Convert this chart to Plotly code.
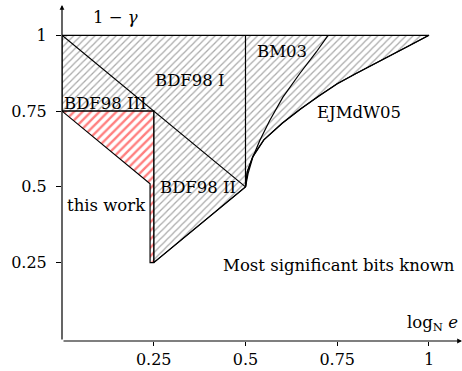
import plotly.graph_objects as go

# ---- data ----
x_ticks = [0.25, 0.5, 0.75, 1]
x_tick_labels = ["0.25", "0.5", "0.75", "1"]
y_ticks = [0.25, 0.5, 0.75, 1]
y_tick_labels = ["0.25", "0.5", "0.75", "1"]

# EJMdW05 bound (lower boundary of known region), from (0.5,0.5) to (1,1)
ejm_x = [0.5, 0.505, 0.52, 0.55, 0.6, 0.65, 0.7, 0.75, 0.8, 0.85, 0.9, 0.95, 1.0]
ejm_y = [0.5, 0.55, 0.6, 0.655, 0.71, 0.757, 0.8, 0.84, 0.873, 0.905, 0.937, 0.968, 1.0]

# BM03 bound, from (0.5,0.5) to (0.725,1)
bm_x = [0.5, 0.507, 0.52, 0.539, 0.566, 0.602, 0.648, 0.693, 0.725]
bm_y = [0.5, 0.544, 0.598, 0.653, 0.719, 0.796, 0.874, 0.945, 1.0]

# BDF98 boundaries
bdf_I_x = [0, 0.5]
bdf_I_y = [1, 0.5]
bdf_II_x = [0.25, 0.5]
bdf_II_y = [0.25, 0.5]
bdf_vert_x = [0.5, 0.5]
bdf_vert_y = [0.5, 1]

# this work region
tw_x = [0, 0.25, 0.25, 0.24, 0.24, 0]
tw_y = [0.75, 0.75, 0.25, 0.25, 0.51, 0.75]

XMIN, XMAX = 0, 1.09
YMIN, YMAX = -0.0085, 1.1

FONT = "DejaVu Serif"

fig = go.Figure()

# gray hatched known region
known_x = [0, 1] + ejm_x[::-1] + [0.25, 0.25, 0, 0]
known_y = [1, 1] + ejm_y[::-1] + [0.25, 0.75, 0.75, 1]
fig.add_trace(go.Scatter(
    x=known_x, y=known_y, mode="lines", fill="toself",
    fillpattern=dict(shape="/", size=5, solidity=0.25, fgcolor="#555555",
                     bgcolor="white"),
    line=dict(color="black", width=1.2), hoverinfo="skip"))

# this work (red hatched)
fig.add_trace(go.Scatter(
    x=tw_x, y=tw_y, mode="lines", fill="toself",
    fillpattern=dict(shape="/", size=6, solidity=0.4, fgcolor="#ff0000",
                     bgcolor="white"),
    line=dict(color="black", width=1.2), hoverinfo="skip"))

for xs, ys in [(bdf_I_x, bdf_I_y), (bdf_II_x, bdf_II_y), (bdf_vert_x, bdf_vert_y),
               (bm_x, bm_y), (ejm_x, ejm_y)]:
    fig.add_trace(go.Scatter(x=xs, y=ys, mode="lines",
                             line=dict(color="black", width=1.2),
                             hoverinfo="skip"))

labels = [
    ("BDF98 I", 0.348, 0.851, "center"),
    ("BM03", 0.599, 0.947, "center"),
    ("EJMdW05", 0.808, 0.746, "center"),
    ("BDF98 III", 0.0, 0.776, "left"),
    ("BDF98 II", 0.37, 0.498, "center"),
    ("this work", 0.122, 0.439, "center"),
    ("Most significant bits known", 0.756, 0.241, "center"),
    ("log<sub>N</sub> <i>e</i>", 1.085, 0.05, "right"),
    ("1 − <i>γ</i>", 0.08, 1.06, "left"),
]
for t, x, y, xa in labels:
    fig.add_annotation(x=x, y=y, text=t, showarrow=False,
                       font=dict(family=FONT, size=16.5, color="black"),
                       xanchor=xa, yanchor="middle")

# axis arrows
fig.add_annotation(x=XMAX, y=YMIN, ax=0, ay=YMIN, xref="x", yref="y",
                   axref="x", ayref="y", text="", showarrow=True,
                   arrowhead=2, arrowsize=0.8, arrowwidth=1.2, arrowcolor="black",
                   standoff=0)
fig.add_annotation(x=0, y=YMAX, ax=0, ay=YMIN, xref="x", yref="y",
                   axref="x", ayref="y", text="", showarrow=True,
                   arrowhead=2, arrowsize=0.8, arrowwidth=1.2, arrowcolor="black",
                   standoff=0)

fig.update_layout(
    width=462, height=371,
    margin=dict(l=62, r=0, t=5, b=30, autoexpand=False),
    plot_bgcolor="white", paper_bgcolor="white",
    showlegend=False,
    font=dict(family=FONT, size=16, color="black"),
    xaxis=dict(range=[XMIN, XMAX], tickvals=x_ticks, ticktext=x_tick_labels,
               ticks="outside", ticklen=4, tickcolor="black", showgrid=False,
               zeroline=False, showline=False, fixedrange=True, automargin=False),
    yaxis=dict(range=[YMIN, YMAX], tickvals=y_ticks, ticktext=y_tick_labels,
               ticks="outside", ticklen=5, tickcolor="black", showgrid=False,
               zeroline=False, showline=False, fixedrange=True, automargin=False,
               ticklabelstandoff=6),
)

fig.write_html("out.html",
               config={"displayModeBar": False},
               post_script="document.body.style.margin='0';document.body.style.overflow='hidden';")
